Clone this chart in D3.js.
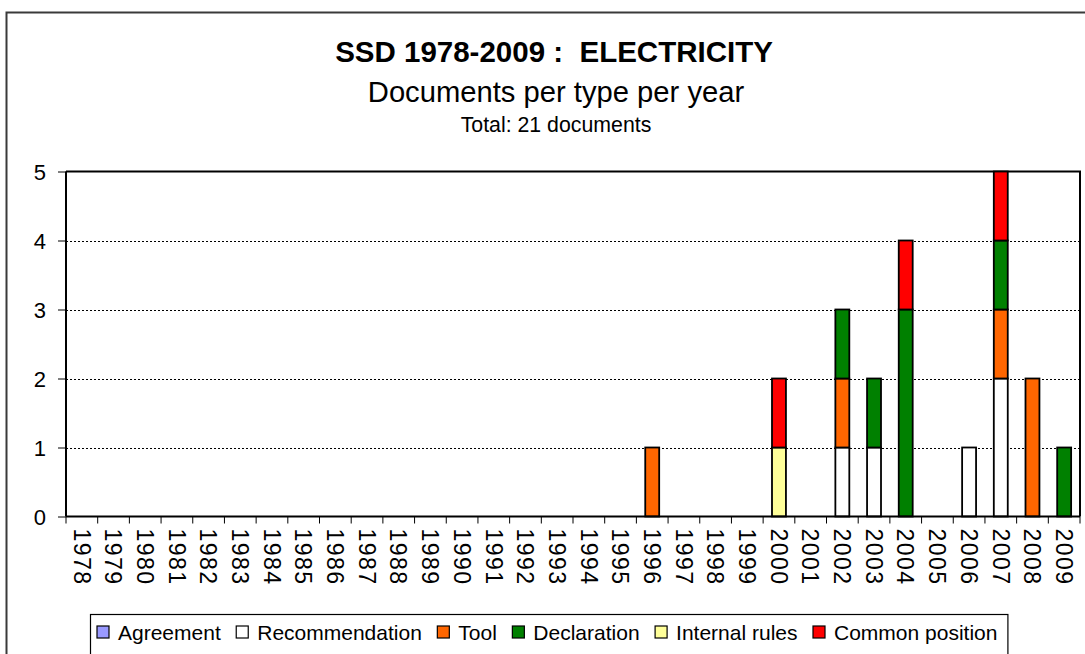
<!DOCTYPE html>
<html>
<head>
<meta charset="utf-8">
<script src="https://cdn.jsdelivr.net/npm/d3@7"></script>
<style>
  html, body { margin: 0; padding: 0; background: #fff; }
  svg { display: block; }
  text { font-family: "Liberation Sans", Arial, sans-serif; fill: #000; }
</style>
</head>
<body>
<svg id="chart" width="1085" height="654"></svg>
<script>
const years = ["1978","1979","1980","1981","1982","1983","1984","1985","1986","1987","1988","1989","1990","1991","1992","1993","1994","1995","1996","1997","1998","1999","2000","2001","2002","2003","2004","2005","2006","2007","2008","2009"];
const seriesNames = ["Agreement","Recommendation","Tool","Declaration","Internal rules","Common position"];
const agreement      = [0,0,0,0,0,0,0,0,0,0,0,0,0,0,0,0,0,0, 0,0,0,0, 0,0, 0,0,0,0,0,0,0,0];
const recommendation = [0,0,0,0,0,0,0,0,0,0,0,0,0,0,0,0,0,0, 0,0,0,0, 0,0, 1,1,0,0,1,2,0,0];
const tool           = [0,0,0,0,0,0,0,0,0,0,0,0,0,0,0,0,0,0, 1,0,0,0, 0,0, 1,0,0,0,0,1,2,0];
const declaration    = [0,0,0,0,0,0,0,0,0,0,0,0,0,0,0,0,0,0, 0,0,0,0, 0,0, 1,1,3,0,0,1,0,1];
const internalRules  = [0,0,0,0,0,0,0,0,0,0,0,0,0,0,0,0,0,0, 0,0,0,0, 1,0, 0,0,0,0,0,0,0,0];
const commonPosition = [0,0,0,0,0,0,0,0,0,0,0,0,0,0,0,0,0,0, 0,0,0,0, 1,0, 0,0,1,0,0,1,0,0];
const yTicks = [0,1,2,3,4,5];
const seriesColors = ["#9999FF","#FFFFFF","#FF6600","#008000","#FFFF99","#FF0000"];
const titleText = "SSD 1978-2009 :  ELECTRICITY";
const subtitleText = "Documents per type per year";
const totalText = "Total: 21 documents";

const seriesValues = [agreement, recommendation, tool, declaration, internalRules, commonPosition];
const table = years.map((y, i) => {
  const row = { year: y };
  seriesNames.forEach((s, k) => row[s] = seriesValues[k][i]);
  return row;
});

const svg = d3.select("#chart");
const plot = { left: 66, right: 1080, top: 171.5, bottom: 516.5 };

// outer chart border
svg.append("rect")
  .attr("x", 6.5).attr("y", 12.5)
  .attr("width", 1100).attr("height", 700)
  .attr("fill", "#fff").attr("stroke", "#3a3a3a").attr("stroke-width", 2);

// titles
const cx = 554;
svg.append("text").attr("x", cx).attr("y", 62).attr("text-anchor", "middle")
  .style("font-size", "29.5px").style("font-weight", "bold").style("white-space", "pre")
  .attr("xml:space", "preserve").text(titleText);
svg.append("text").attr("x", cx + 2).attr("y", 102).attr("text-anchor", "middle")
  .style("font-size", "29.2px").text(subtitleText);
svg.append("text").attr("x", cx + 2).attr("y", 132).attr("text-anchor", "middle")
  .style("font-size", "21.3px").text(totalText);

const x = d3.scaleBand().domain(years).range([plot.left, plot.right])
  .paddingInner(0.56).paddingOuter(0.28);
const y = d3.scaleLinear().domain([0, 5]).range([plot.bottom, plot.top]);

// gridlines
svg.append("g").selectAll("line").data(yTicks.filter(t => t > 0 && t < 5)).join("line")
  .attr("x1", plot.left).attr("x2", plot.right)
  .attr("y1", d => Math.round(y(d)) + 0.5).attr("y2", d => Math.round(y(d)) + 0.5)
  .attr("stroke", "#000").attr("stroke-width", 1).attr("stroke-dasharray", "2,2");

// plot frame top/right
svg.append("path")
  .attr("d", `M${plot.left},${plot.top}H${plot.right}V${plot.bottom}`)
  .attr("fill", "none").attr("stroke", "#000").attr("stroke-width", 2);

// bars
const stack = d3.stack().keys(seriesNames)(table);
svg.append("g").selectAll("g").data(stack).join("g")
  .attr("fill", (d, i) => seriesColors[i])
  .selectAll("rect").data(d => d.filter(p => p[1] - p[0] > 0)).join("rect")
  .attr("x", d => x(d.data.year))
  .attr("width", x.bandwidth())
  .attr("y", d => y(d[1]))
  .attr("height", d => y(d[0]) - y(d[1]))
  .attr("stroke", "#000").attr("stroke-width", 1.8);

// y axis
const yAxis = d3.axisLeft(y).tickValues(yTicks).tickSize(8).tickPadding(12).tickFormat(d3.format("d"));
const gy = svg.append("g").attr("transform", `translate(${plot.left},0)`).call(yAxis);
gy.select(".domain").attr("stroke", "#000").attr("stroke-width", 2).attr("d", `M0,${plot.top}V${plot.bottom}`);
gy.selectAll(".tick line").attr("stroke", "#000").attr("stroke-width", 1);
gy.selectAll(".tick text").style("font-size", "22px").style("font-family", "'Liberation Sans', Arial, sans-serif").attr("dy", "0.36em");

// x axis: ticks at category boundaries
const boundaries = years.map(yr => x(yr) - x.step() * x.paddingInner() / 2);
boundaries.push(plot.right);
const gx = svg.append("g");
gx.append("line").attr("x1", plot.left).attr("x2", plot.right)
  .attr("y1", plot.bottom).attr("y2", plot.bottom)
  .attr("stroke", "#000").attr("stroke-width", 2);
gx.selectAll("line.tk").data(boundaries).join("line").attr("class", "tk")
  .attr("x1", d => d).attr("x2", d => d)
  .attr("y1", plot.bottom).attr("y2", plot.bottom + 7)
  .attr("stroke", "#000").attr("stroke-width", 1);
gx.selectAll("text").data(years).join("text")
  .attr("transform", d => `translate(${x(d) + x.bandwidth() / 2},${plot.bottom + 12}) rotate(90)`)
  .attr("dy", "0.36em")
  .style("font-size", "23px")
  .style("letter-spacing", "1.5px")
  .text(d => d);

// legend
const legend = svg.append("g");
const legendBox = legend.append("rect")
  .attr("x", 90.5).attr("y", 614.5).attr("height", 60)
  .attr("fill", "#fff").attr("stroke", "#000").attr("stroke-width", 1.2);
let lx = 97;
seriesNames.forEach((name, i) => {
  legend.append("rect").attr("x", lx).attr("y", 626).attr("width", 12).attr("height", 12)
    .attr("fill", seriesColors[i]).attr("stroke", "#000").attr("stroke-width", 1.2);
  const t = legend.append("text").attr("x", lx + 21).attr("y", 640)
    .style("font-size", "21px").text(name);
  lx = lx + 21 + t.node().getComputedTextLength() + 15.5;
});
legendBox.attr("width", lx - 90.5 - 5);
</script>
</body>
</html>
